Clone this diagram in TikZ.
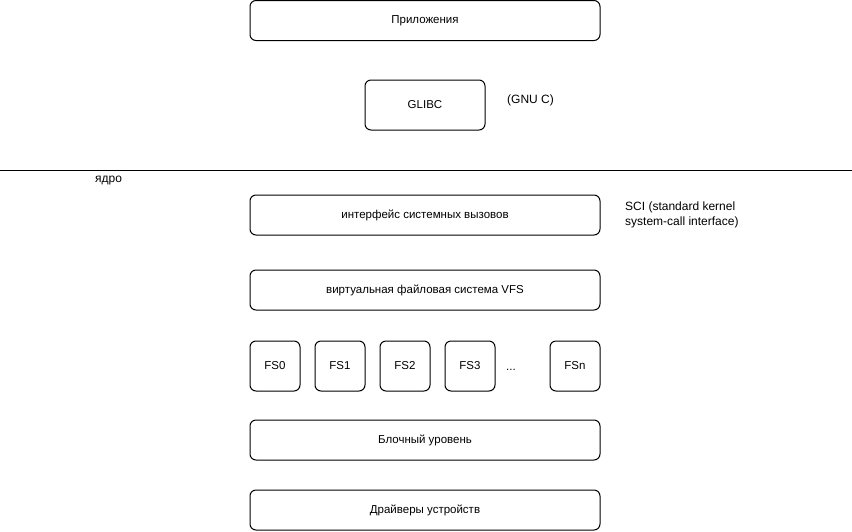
\documentclass[tikz,border=0pt]{standalone}
\usepackage{fontspec}
\setmainfont{Liberation Sans}

\tikzset{
  layer/.style={draw, line width=1pt, rounded corners=6pt, minimum width=350pt, minimum height=40pt, inner sep=0pt},
  fsbox/.style={draw, line width=1pt, rounded corners=6pt, minimum width=50pt, minimum height=50pt, inner sep=0pt},
  note/.style={font=\fontsize{12}{15}\selectfont, align=left, inner sep=0pt}
}

\begin{document}
\begin{tikzpicture}[x=1pt, y=-1pt, font=\fontsize{11.5}{14}\selectfont]
        \useasboundingbox (0,0) rectangle (852,531);

        % Espaço do usuário
        \node[layer] (apps) at (425,20.5) {Приложения};
        \node[layer, minimum width=120pt, minimum height=50pt] (glibc) at (425,105) {GLIBC};
        \node[note, anchor=west] (gnuc) at (507,100) {(GNU C)};

        % Linha do núcleo
        \coordinate (kl) at (0,170);
        \coordinate (kr) at (852,170);
        \draw[line width=1pt] (kl) -- (kr);
        \node[note, anchor=west] (kernel) at (95,181) {ядро};

        % Camadas do núcleo
        \node[layer] (sci) at (425,215) {интерфейс системных вызовов};
        \node[note, anchor=west] (scinote) at (625,215) {SCI (standard kernel\\system-call interface)};
        \node[layer] (vfs) at (425,290) {виртуальная файловая система VFS};

        % Sistemas de arquivos
        \node[fsbox] (fs0) at (275,366) {FS0};
        \node[fsbox] (fs1) at (340,366) {FS1};
        \node[fsbox] (fs2) at (405,366) {FS2};
        \node[fsbox] (fs3) at (470,366) {FS3};
        \node (dots) at (511,370) {...};
        \node[fsbox] (fsn) at (575,366) {FSn};

        \node[layer] (block) at (425,440) {Блочный уровень};
        \node[layer] (drivers) at (425,510) {Драйверы устройств};
    \end{tikzpicture}
\end{document}
